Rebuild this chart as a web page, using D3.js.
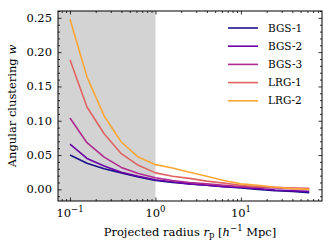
<!DOCTYPE html>
<html>
<head>
<meta charset="utf-8">
<script src="https://cdn.jsdelivr.net/npm/d3@7"></script>
<style>
  body { margin: 0; background: #fff; }
  svg text { font-family: "DejaVu Serif", "Liberation Serif", serif; fill: #000; }
</style>
</head>
<body>
<div id="chart"></div>
<script>
// Constants for the chart
const WIDTH = 333;
const HEIGHT = 250;
const MARGIN = { left: 58, right: 11, top: 11, bottom: 49 };
const INNER_W = WIDTH - MARGIN.left - MARGIN.right;
const INNER_H = HEIGHT - MARGIN.top - MARGIN.bottom;
const FONT = "11.5px";

// radii: log spaced from 0.1 to ~63 h^-1 Mpc
const radius = [0.1, 0.158, 0.251, 0.398, 0.631, 1.0, 1.585, 2.512, 3.981, 6.31, 10.0, 15.85, 25.12, 39.81, 63.1];

const seriesNames = ["BGS-1", "BGS-2", "BGS-3", "LRG-1", "LRG-2"];
const seriesColors = ["#1b128a", "#6a00a8", "#b12a90", "#e16462", "#fca636"];

const bgs1 = [0.050, 0.038, 0.030, 0.024, 0.018, 0.013, 0.010, 0.008, 0.006, 0.004, 0.002, 0.000, -0.002, -0.003, -0.005];
const bgs2 = [0.066, 0.045, 0.034, 0.025, 0.019, 0.014, 0.011, 0.008, 0.006, 0.004, 0.003, 0.001, -0.001, -0.002, -0.003];
const bgs3 = [0.104, 0.068, 0.047, 0.032, 0.023, 0.017, 0.013, 0.010, 0.008, 0.006, 0.004, 0.003, 0.002, 0.001, 0.001];
const lrg1 = [0.189, 0.120, 0.081, 0.052, 0.035, 0.024, 0.019, 0.016, 0.012, 0.009, 0.006, 0.004, 0.003, 0.002, 0.001];
const lrg2 = [0.248, 0.164, 0.107, 0.069, 0.047, 0.036, 0.031, 0.025, 0.019, 0.013, 0.008, 0.006, 0.003, 0.001, 0.000];

const yTicks = [0.00, 0.05, 0.10, 0.15, 0.20, 0.25];
const xTicks = [0.1, 1, 10];
const xTickExp = ["\u22121", "0", "1"];
const shadeRange = [0.01, 1];

const svg = d3.select("#chart").append("svg")
  .attr("width", WIDTH).attr("height", HEIGHT);
const g = svg.append("g")
  .attr("transform", `translate(${MARGIN.left},${MARGIN.top})`);

const x = d3.scaleLog().domain([0.0724, 88.9]).range([0, INNER_W]);
const y = d3.scaleLinear().domain([-0.017, 0.26]).range([INNER_H, 0]);

// clip
svg.append("defs").append("clipPath").attr("id", "clip")
  .append("rect").attr("width", INNER_W).attr("height", INNER_H);

// shaded region
g.append("rect")
  .attr("clip-path", "url(#clip)")
  .attr("x", 0)
  .attr("y", 0)
  .attr("width", x(shadeRange[1]))
  .attr("height", INNER_H)
  .attr("fill", "#d3d3d3");

// lines
const allSeries = [bgs1, bgs2, bgs3, lrg1, lrg2];
const line = d3.line()
  .x((d, i) => x(radius[i]))
  .y(d => y(d));

allSeries.forEach((s, i) => {
  g.append("path")
    .datum(s)
    .attr("d", line)
    .attr("fill", "none")
    .attr("stroke", seriesColors[i])
    .attr("stroke-width", 1.6)
    .attr("stroke-linejoin", "round");
});

// minor ticks
const xMinor = [];
[0.01, 0.1, 1, 10].forEach(dec => {
  for (let m = 2; m <= 9; m++) {
    const v = dec * m;
    if (v > x.domain()[0] && v < x.domain()[1]) xMinor.push(v);
  }
});
const yMinor = d3.range(-0.01, 0.2601, 0.01).filter(v => !yTicks.some(t => Math.abs(t - v) < 1e-6));

// axes with inward ticks
const axB = g.append("g").attr("transform", `translate(0,${INNER_H})`);
axB.call(d3.axisBottom(x).tickValues(xTicks).tickSize(-3.5).tickFormat(""));
axB.append("g").call(d3.axisBottom(x).tickValues(xMinor).tickSize(-2).tickFormat(""));
const axT = g.append("g");
axT.call(d3.axisTop(x).tickValues(xTicks).tickSize(-3.5).tickFormat(""));
axT.append("g").call(d3.axisTop(x).tickValues(xMinor).tickSize(-2).tickFormat(""));
const axL = g.append("g");
axL.call(d3.axisLeft(y).tickValues(yTicks).tickSize(-3.5).tickFormat(""));
axL.append("g").call(d3.axisLeft(y).tickValues(yMinor).tickSize(-2).tickFormat(""));
const axR = g.append("g").attr("transform", `translate(${INNER_W},0)`);
axR.call(d3.axisRight(y).tickValues(yTicks).tickSize(-3.5).tickFormat(""));
axR.append("g").call(d3.axisRight(y).tickValues(yMinor).tickSize(-2).tickFormat(""));
g.selectAll(".domain").remove();
g.selectAll(".tick line").attr("stroke", "#000").attr("stroke-width", 0.8);

// frame
g.append("rect")
  .attr("width", INNER_W).attr("height", INNER_H)
  .attr("fill", "none").attr("stroke", "#000").attr("stroke-width", 1);

// y tick labels
g.selectAll(".ylab").data(yTicks).join("text")
  .attr("class", "ylab")
  .attr("x", -6)
  .attr("y", d => y(d))
  .attr("dy", "0.35em")
  .attr("text-anchor", "end")
  .style("font-size", FONT)
  .text(d => d3.format(".2f")(d));

// x tick labels 10^n
const xl = g.selectAll(".xlab").data(xTicks).join("text")
  .attr("class", "xlab")
  .attr("x", d => x(d))
  .attr("y", INNER_H + 16)
  .attr("text-anchor", "middle")
  .style("font-size", FONT);
xl.append("tspan").text("10");
xl.append("tspan").attr("dy", -5).style("font-size", "8.5px").text((d, i) => xTickExp[i]);

// axis labels
const xLabel = svg.append("text")
  .attr("x", MARGIN.left + INNER_W / 2)
  .attr("y", 236)
  .attr("text-anchor", "middle")
  .style("font-size", FONT);
xLabel.append("tspan").text("Projected radius ");
xLabel.append("tspan").style("font-style", "italic").text("r");
xLabel.append("tspan").attr("dy", 2).style("font-size", "8.5px").text("p");
xLabel.append("tspan").attr("dy", -2).text(" [");
xLabel.append("tspan").style("font-style", "italic").text("h");
xLabel.append("tspan").attr("dy", -5).style("font-size", "8.5px").text("\u22121");
xLabel.append("tspan").attr("dy", 5).text(" Mpc]");

svg.append("text")
  .attr("transform", `translate(16,${MARGIN.top + INNER_H / 2}) rotate(-90)`)
  .attr("text-anchor", "middle")
  .style("font-size", FONT)
  .call(t => {
    t.append("tspan").text("Angular clustering ");
    t.append("tspan").style("font-style", "italic").text("w");
  });

// legend
const legend = svg.append("g").attr("transform", "translate(228,28)");
seriesNames.forEach((name, i) => {
  const row = legend.append("g").attr("transform", `translate(0,${i * 18.2})`);
  row.append("line").attr("x1", 0).attr("x2", 30).attr("y1", 0).attr("y2", 0)
    .attr("stroke", seriesColors[i]).attr("stroke-width", 1.6);
  row.append("text").attr("x", 40).attr("y", 0).attr("dy", "0.35em")
    .style("font-size", "10.5px").text(name);
});
</script>
</body>
</html>
